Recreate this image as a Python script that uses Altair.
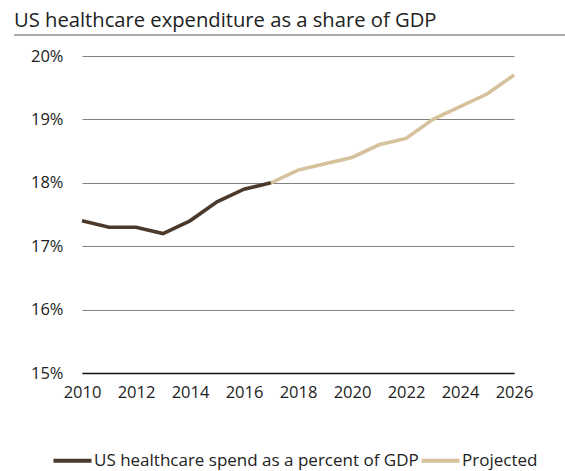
import altair as alt
import pandas as pd

hist_years = [2010, 2011, 2012, 2013, 2014, 2015, 2016, 2017]
hist_vals = [17.4, 17.3, 17.3, 17.2, 17.4, 17.7, 17.9, 18.0]
proj_years = [2017, 2018, 2019, 2020, 2021, 2022, 2023, 2024, 2025, 2026]
proj_vals = [18.0, 18.2, 18.3, 18.4, 18.6, 18.7, 19.0, 19.2, 19.4, 19.7]
series_names = ["US healthcare spend as a percent of GDP", "Projected"]
series_colors = ["#4b3a2c", "#d5c19b"]
x_ticks = [2010, 2012, 2014, 2016, 2018, 2020, 2022, 2024, 2026]
y_ticks = [0.15, 0.16, 0.17, 0.18, 0.19, 0.20]
title_text = "US healthcare expenditure as a share of GDP"

rows = []
for y, v in zip(hist_years, hist_vals):
    rows.append({"year": y, "value": v / 100, "series": series_names[0], "order": 0})
for y, v in zip(proj_years, proj_vals):
    rows.append({"year": y, "value": v / 100, "series": series_names[1], "order": 1})
df = pd.DataFrame(rows)

FONT = "Open Sans"
FW = 400

base = alt.Chart(df)

lines = base.mark_line(strokeWidth=3.6, strokeCap="butt", strokeJoin="miter").encode(
    x=alt.X("year:Q", scale=alt.Scale(domain=[2010, 2026], nice=False, zero=False),
            axis=alt.Axis(values=x_ticks, format="d", title=None, grid=False,
                          ticks=False, domain=True, domainColor="#111111",
                          domainWidth=1.5, labelPadding=11, labelFontSize=16.5,
                          labelColor="#222222", labelFont=FONT, labelFontWeight=FW,
                          labelFlush=False)),
    y=alt.Y("value:Q", scale=alt.Scale(domain=[0.15, 0.20], nice=False, zero=False),
            axis=alt.Axis(values=y_ticks, format=".0%", title=None, grid=True,
                          gridColor="#808080", gridWidth=1, ticks=False, domain=False,
                          labelPadding=19, labelFontSize=16.5, labelColor="#222222",
                          labelFont=FONT, labelFontWeight=FW)),
    color=alt.Color("series:N",
                    scale=alt.Scale(domain=series_names, range=series_colors),
                    legend=alt.Legend(title=None, orient="none", legendX=-31, legendY=383,
                                      direction="horizontal", symbolType="stroke",
                                      symbolSize=1450, symbolStrokeWidth=4,
                                      labelFontSize=17, labelFont=FONT,
                                      labelFontWeight=FW, labelColor="#222222",
                                      labelOffset=0, columnPadding=-9, labelLimit=500)),
    detail="series:N",
)

title_df = pd.DataFrame({"t": [title_text]})
title_mark = alt.Chart(title_df).mark_text(
    align="left", baseline="alphabetic", fontSize=20.2, font=FONT,
    fontWeight=FW, color="#222222"
).encode(text="t:N", x=alt.value(-68), y=alt.value(-29))

rule = alt.Chart(title_df).mark_rule(color="#555555", strokeWidth=1).encode(
    x=alt.value(-68), x2=alt.value(483), y=alt.value(-21)
)

chart = alt.layer(lines, title_mark, rule).properties(
    width=432, height=317,
    autosize=alt.AutoSizeParams(type="none"),
    padding={"left": 82, "top": 56, "right": 51, "bottom": 98},
).configure_view(stroke=None)

chart.save("out.html", embed_options={"renderer": "svg", "actions": False})
